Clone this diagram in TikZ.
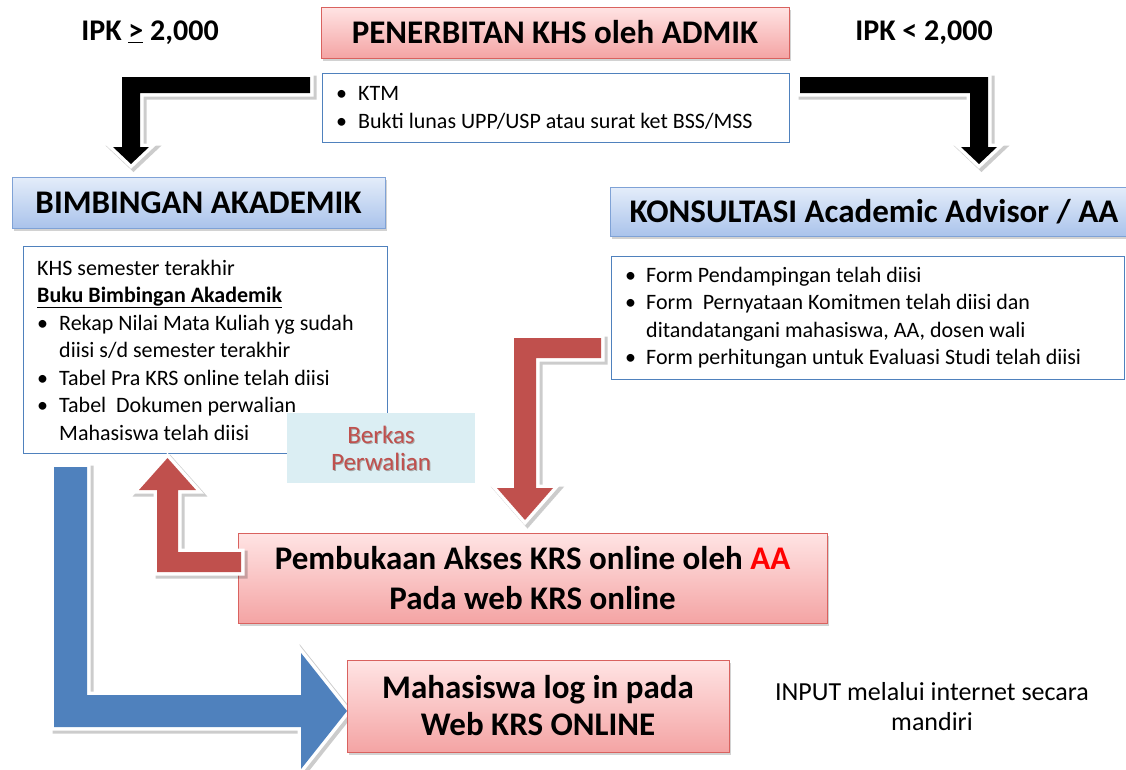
\documentclass[tikz,border=0pt]{standalone}
\usepackage{fontspec}
\setmainfont{Carlito}
\usetikzlibrary{shadows}
\definecolor{redborder}{HTML}{D9625F}
\definecolor{redtop}{HTML}{FFE4E4}
\definecolor{redbot}{HTML}{F4A4A4}
\definecolor{bluetop}{HTML}{E4EDFA}
\definecolor{bluebot}{HTML}{AAC3EB}
\definecolor{blueborder}{HTML}{7FA2D6}
\definecolor{listborder}{HTML}{4F81BD}
\definecolor{arrred}{HTML}{C0504D}
\definecolor{arrblue}{HTML}{4F81BD}
\definecolor{berkasfill}{HTML}{DBEEF3}
\definecolor{aared}{HTML}{FF0000}
\newcommand\ttlfont{\fontsize{33}{39}\selectfont\bfseries}
\newcommand\txtfont{\fontsize{22}{27.5}\selectfont}
\newcommand\itembul{\makebox[22pt][l]{\textbullet}}
\tikzset{
  redbox/.style={draw=redborder, line width=1pt, top color=redtop, bottom color=redbot,
    drop shadow={opacity=0.35, shadow xshift=1.5pt, shadow yshift=-2.5pt},
    font=\ttlfont, align=center, inner sep=0pt},
  bluebox/.style={draw=blueborder, line width=1pt, top color=bluetop, bottom color=bluebot,
    drop shadow={opacity=0.35, shadow xshift=1.5pt, shadow yshift=-2.5pt},
    font=\ttlfont, align=center, inner sep=0pt},
  listbox/.style={draw=listborder, line width=0.9pt, fill=white, inner sep=0pt, anchor=north west},
  listtext/.style={align=left, font=\txtfont, inner sep=0pt, anchor=west, xshift=14pt},
  blockarrow/.style={
    preaction={draw=black, draw opacity=0.2, line width=8pt, line join=miter,
      transform canvas={shift={(2.5,2.5)}}},
    preaction={draw=white, line width=7pt, line join=miter}},
  plainlabel/.style={align=center, inner sep=0pt},
}
\begin{document}
\begin{tikzpicture}[x=1pt,y=-1pt]
\useasboundingbox[fill=white] (0,0) rectangle (1126,769);

% block arrows
\fill[blockarrow, fill=black] (310,77) -- (122,77) -- (122,147) -- (113,147) -- (131,164) -- (149,147) -- (140,147) -- (140,93) -- (310,93) -- cycle;
\fill[blockarrow, fill=black] (800,77) -- (988,77) -- (988,147) -- (997,147) -- (979,164) -- (961,147) -- (970,147) -- (970,93) -- (800,93) -- cycle;
\fill[blockarrow, fill=arrred] (601,338) -- (514,338) -- (514,488) -- (497,488) -- (525,520) -- (553,488) -- (536,488) -- (536,358) -- (601,358) -- cycle;
\fill[blockarrow, fill=arrblue] (54,467) -- (54,727) -- (301,727) -- (301,769) -- (347,711) -- (301,653) -- (301,695) -- (87,695) -- (87,467) -- cycle;

% labels
\node[plainlabel, font=\fontsize{30}{34}\selectfont\bfseries] (ipkge) at (150,33) {IPK \underline{>} 2,000};
\node[plainlabel, font=\fontsize{30}{34}\selectfont\bfseries] (ipklt) at (924,33) {IPK < 2,000};

% title boxes
\node[redbox, minimum width=468pt, minimum height=51pt] (pen) at (555,32.5) {PENERBITAN KHS oleh ADMIK};
\node[bluebox, minimum width=373pt, minimum height=51pt] (bim) at (198.5,202.5) {BIMBINGAN AKADEMIK};
\node[bluebox, minimum width=528pt, minimum height=49pt] (kon) at (874,211.5) {KONSULTASI Academic Advisor / AA};

% list boxes
\node[listbox, minimum width=467pt, minimum height=69pt] (ktm) at (322,73) {};
\node[listtext] (ktmtext) at (ktm.west) {%
\itembul KTM\\
\itembul Bukti lunas UPP/USP atau surat ket BSS/MSS};

\node[listbox, minimum width=364pt, minimum height=207pt] (bimlist) at (23,246) {};
\node[listtext] (bimtext) at (bimlist.west) {%
KHS semester terakhir\\
\textbf{\underline{Buku Bimbingan Akademik}}\\
\itembul Rekap Nilai Mata Kuliah yg sudah\\
\hspace*{22pt}diisi s/d semester terakhir\\
\itembul Tabel Pra KRS online telah diisi\\
\itembul Tabel\ \ Dokumen perwalian\\
\hspace*{22pt}Mahasiswa telah diisi};

\node[listbox, minimum width=513pt, minimum height=123pt] (konlist) at (611,256) {};
\node[listtext] (kontext) at (konlist.west) {%
\makebox[21pt][l]{\textbullet}Form Pendampingan telah diisi\\
\makebox[21pt][l]{\textbullet}Form\ \ Pernyataan Komitmen telah diisi dan\\
\hspace*{21pt}ditandatangani mahasiswa, AA, dosen wali\\
\makebox[21pt][l]{\textbullet}Form perhitungan untuk Evaluasi Studi telah diisi};

% berkas
\node[fill=berkasfill, minimum width=188pt, minimum height=70pt, inner sep=0pt] (berkas) at (381,448) {};
\node[align=center, inner sep=0pt, font=\fontsize{25}{27}\selectfont, text=black!35, xshift=1pt, yshift=-1pt] (berkasshadow) at (berkas.center) {Berkas\\Perwalian};
\node[align=center, inner sep=0pt, font=\fontsize{25}{27}\selectfont, text=arrred] (berkastext) at (berkas.center) {Berkas\\Perwalian};

% bottom boxes
\node[redbox, minimum width=589pt, minimum height=90pt, font=\fontsize{33}{40}\selectfont\bfseries] (buka) at (532.5,578) {Pembukaan Akses KRS online oleh \textcolor{aared}{AA}\\Pada web KRS online};
\node[redbox, minimum width=382pt, minimum height=92pt, font=\fontsize{33}{37}\selectfont\bfseries] (mhs) at (538,706) {Mahasiswa log in pada\\Web KRS ONLINE};

% arrow from Pembukaan back up to Bimbingan list (drawn over box edge)
\fill[blockarrow, fill=arrred] (241,552) -- (178,552) -- (178,490) -- (196,490) -- (167.5,458) -- (139,490) -- (157,490) -- (157,572) -- (241,572) -- cycle;

\node[plainlabel, font=\fontsize{26}{30}\selectfont] (input) at (932,707) {INPUT melalui internet secara\\mandiri};
\end{tikzpicture}
\end{document}
